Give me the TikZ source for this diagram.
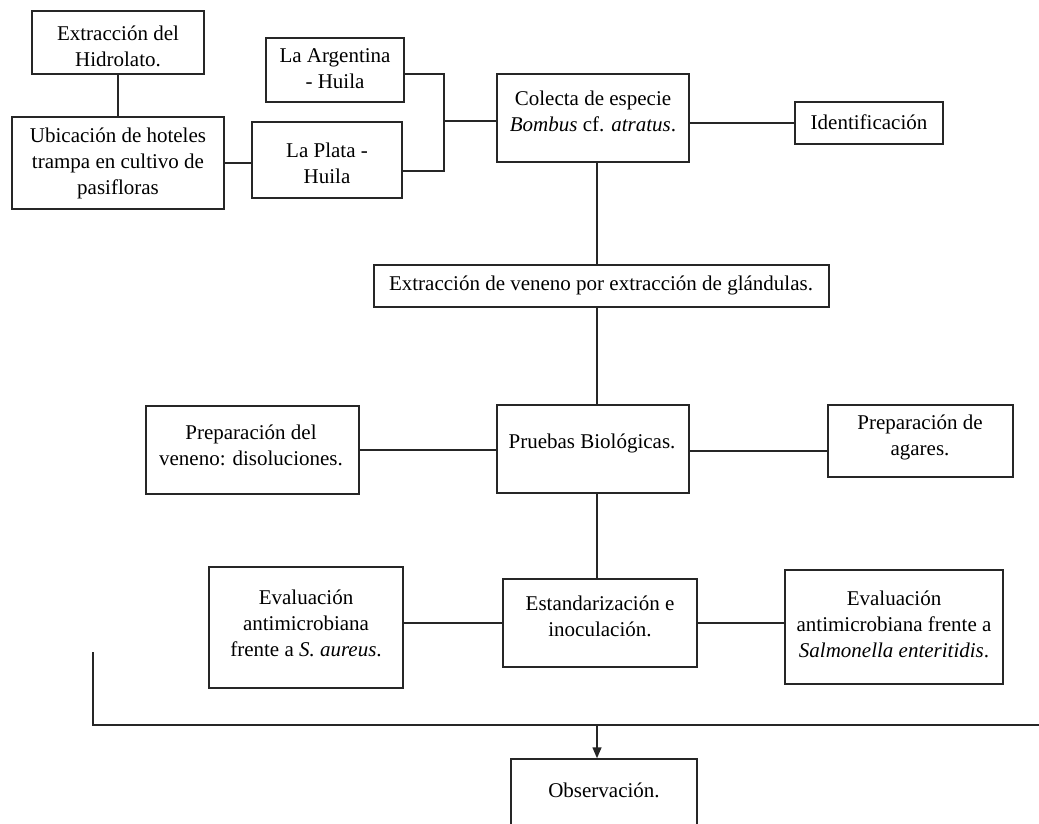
\documentclass[tikz,border=0pt]{standalone}
\usepackage{fontspec}
\setmainfont{Liberation Serif}
\usetikzlibrary{arrows.meta}
\tikzset{
  box/.style={draw=black!85, line width=1.5pt, inner sep=0pt, fill=none},
  txt/.style={align=center, inner sep=0pt, font=\fontsize{21}{26}\selectfont},
  conn/.style={draw=black!85, line width=1.5pt},
  arr/.style={conn, -{Triangle[length=11pt,width=9pt]}}
}
\begin{document}
\begin{tikzpicture}[x=1pt,y=-1pt]
\useasboundingbox (0,0) rectangle (1039,824);
\clip (0,0) rectangle (1039,824);
\fill[white] (0,0) rectangle (1039,824);

% boxes
\node[box, minimum width=172, minimum height=63] (hidro) at (118,42.5) {};
\node[box, minimum width=212, minimum height=92] (ubic) at (118,163) {};
\node[box, minimum width=138, minimum height=64] (arg) at (335,70) {};
\node[box, minimum width=150, minimum height=76] (plata) at (327,160) {};
\node[box, minimum width=192, minimum height=88] (col) at (593,118) {};
\node[box, minimum width=148, minimum height=42] (ident) at (869,123) {};
\node[box, minimum width=455, minimum height=42] (ven) at (601.5,286) {};
\node[box, minimum width=213, minimum height=88] (prepv) at (252.5,450) {};
\node[box, minimum width=192, minimum height=88] (prue) at (593,449) {};
\node[box, minimum width=185, minimum height=72] (agar) at (920.5,441) {};
\node[box, minimum width=194, minimum height=88] (est) at (600,623) {};
\node[box, minimum width=194, minimum height=121] (saur) at (306,627.5) {};
\node[box, minimum width=218, minimum height=114] (salm) at (894,627) {};
\node[box, minimum width=186, minimum height=81] (obs) at (604,799.5) {};

% texts
\node[txt] (hidro-t) at (118,46.5) {Extracción del\\Hidrolato.};
\node[txt] (ubic-t) at (118,163.5) {Ubicación de hoteles\\trampa en cultivo de\\pasifloras};
\node[txt] (arg-t) at (335,68.5) {La Argentina\\- Huila};
\node[txt] (plata-t) at (327,163.5) {La Plata -\\Huila};
\node[txt] (col-t) at (593,111.5) {Colecta de especie\\\textit{Bombus} cf. \textit{atratus}.};
\node[txt] (ident-t) at (869,122) {Identificación};
\node[txt] (ven-t) at (601,285) {Extracción de veneno por extracción de glándulas.};
\node[txt] (prepv-t) at (251,445) {Preparación del\\veneno: disoluciones.};
\node[txt] (prue-t) at (592,443) {Pruebas Biológicas.};
\node[txt] (agar-t) at (920,437.5) {Preparación de\\agares.};
\node[txt] (est-t) at (600,616) {Estandarización e\\inoculación.};
\node[txt] (saur-t) at (306,623) {Evaluación\\antimicrobiana\\frente a \textit{S. aureus}.};
\node[txt] (salm-t) at (894,624) {Evaluación\\antimicrobiana frente a\\\textit{Salmonella enteritidis}.};
\node[txt] (obs-t) at (604,790) {Observación.};

% helper coordinates
\coordinate (ax) at (597,0);
\coordinate (bk) at (444,121);
\coordinate (bl) at (93,652);
\coordinate (br) at (1039,725);

% connectors
\draw[conn] (hidro.south) -- (ubic.north);
\draw[conn] (ubic.east) -- (ubic.east -| plata.west);
\draw[conn] ([yshift=-4pt]arg.east) -- ([yshift=-4pt]arg.east -| bk)
  -- ([yshift=-11pt]plata.east -| bk) -- ([yshift=-11pt]plata.east);
\draw[conn] (bk) -- (bk -| col.west);
\draw[conn] (ident.west -| col.east) -- (ident.west);
\draw[conn] (ax |- col.south) -- (ax |- ven.north);
\draw[conn] (ax |- ven.south) -- (ax |- prue.north);
\draw[conn] (prepv.east) -- (prepv.east -| prue.west);
\draw[conn] ([yshift=-2pt]prue.east) -- ([yshift=-2pt]prue.east -| agar.west);
\draw[conn] (ax |- prue.south) -- (ax |- est.north);
\draw[conn] (est.west -| saur.east) -- (est.west);
\draw[conn] (est.east) -- (est.east -| salm.west);
\draw[conn] (bl) -- (bl |- br) -- (br);
\draw[arr] (ax |- br) -- (ax |- obs.north);
\end{tikzpicture}
\end{document}
